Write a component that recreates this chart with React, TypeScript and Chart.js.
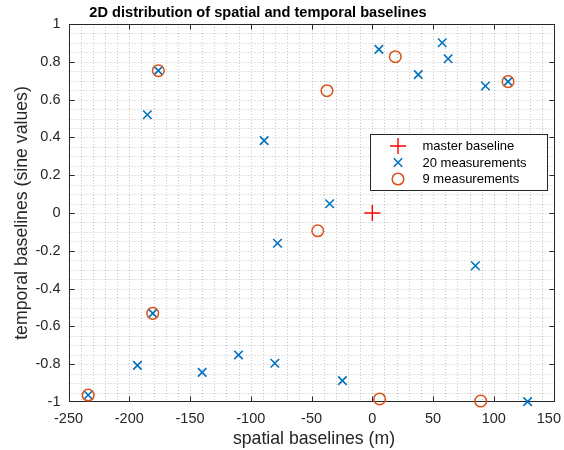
import React, { useEffect, useRef } from "react";
import { Chart, registerables } from "chart.js";

Chart.register(...registerables);

// ---------- data ----------
const titleText = "2D distribution of spatial and temporal baselines";
const xLabelText = "spatial baselines (m)";
const yLabelText = "temporal baselines (sine values)";

const masterX = [0];
const masterY = [0];

const meas20X = [-176.1, -185.1, -89.0, 5.4, 57.5, 62.4, 37.8, 93.1, 111.7, -35.1, -78.0, -180.7, -193.3, -140.0, -110.1, -80.2, -233.8, 84.8, -24.6, 127.8];
const meas20Y = [0.753, 0.52, 0.383, 0.866, 0.901, 0.816, 0.732, 0.672, 0.695, 0.049, -0.16, -0.531, -0.806, -0.843, -0.751, -0.795, -0.963, -0.279, -0.887, -0.998];

const meas9X = [-176.1, 18.9, 111.7, -37.3, -180.7, -233.8, -44.9, 6.0, 89.2];
const meas9Y = [0.753, 0.827, 0.695, 0.647, -0.531, -0.963, -0.094, -0.984, -0.995];

const xMin = -250, xMax = 150, xMajor = 50, xMinor = 10;
const yMin = -1, yMax = 1, yMajor = 0.2, yMinor = 0.05;
const xTickLabels = ["-250", "-200", "-150", "-100", "-50", "0", "50", "100", "150"];

const legendLabels = ["master baseline", "20 measurements", "9 measurements"];

const FONT = "'Liberation Sans', Arial, Helvetica, sans-serif";
const AX = "#262626";
const BLUE = "#0072BD";
const ORANGE = "#D95319";
const RED = "#FF0000";

const toPts = (xs: number[], ys: number[]) => xs.map((x, i) => ({ x, y: ys[i] }));

const matlabPlugin = {
  id: "matlabLook",
  beforeDatasetsDraw(chart: any) {
    const { ctx, chartArea, scales } = chart;
    const { left, right, top, bottom } = chartArea;
    const xs = scales.x, ys = scales.y;
    ctx.save();
    // dotted grid
    ctx.strokeStyle = "rgba(38,38,38,0.26)";
    ctx.lineWidth = 1;
    ctx.setLineDash([1, 2]);
    const nx = Math.round((xMax - xMin) / xMinor);
    for (let i = 1; i < nx; i++) {
      const v = xMin + i * xMinor;
      const p = Math.round(xs.getPixelForValue(v)) + 0.5;
      ctx.beginPath();
      ctx.moveTo(p, top);
      ctx.lineTo(p, bottom);
      ctx.stroke();
    }
    const ny = Math.round((yMax - yMin) / yMinor);
    for (let i = 1; i < ny; i++) {
      const v = yMin + i * yMinor;
      const p = Math.round(ys.getPixelForValue(v)) + 0.5;
      ctx.beginPath();
      ctx.moveTo(left, p);
      ctx.lineTo(right, p);
      ctx.stroke();
    }
    ctx.setLineDash([]);
    // frame
    ctx.strokeStyle = AX;
    ctx.lineWidth = 1;
    const L = Math.round(left) + 0.5, R = Math.round(right) - 0.5;
    const T = Math.round(top) + 0.5, B = Math.round(bottom) - 0.5;
    ctx.strokeRect(L, T, R - L, B - T);
    // inward ticks
    const tl = 5;
    const mx = Math.round((xMax - xMin) / xMajor);
    for (let i = 1; i < mx; i++) {
      const p = Math.round(xs.getPixelForValue(xMin + i * xMajor)) + 0.5;
      ctx.beginPath();
      ctx.moveTo(p, B); ctx.lineTo(p, B - tl);
      ctx.moveTo(p, T); ctx.lineTo(p, T + tl);
      ctx.stroke();
    }
    const my = Math.round((yMax - yMin) / yMajor);
    for (let i = 1; i < my; i++) {
      const p = Math.round(ys.getPixelForValue(yMin + i * yMajor)) + 0.5;
      ctx.beginPath();
      ctx.moveTo(L, p); ctx.lineTo(L + tl, p);
      ctx.moveTo(R, p); ctx.lineTo(R - tl, p);
      ctx.stroke();
    }
    ctx.restore();
  },
  afterDraw(chart: any) {
    const { ctx, scales, width } = chart;
    ctx.save();
    // x tick labels
    ctx.fillStyle = AX;
    ctx.font = `14.5px ${FONT}`;
    ctx.textAlign = "center";
    ctx.textBaseline = "middle";
    xTickLabels.forEach((t) => {
      const v = Number(t);
      let px = scales.x.getPixelForValue(v);
      const w = ctx.measureText(t).width;
      if (px + w / 2 > width - 3) px = width - 3 - w / 2;
      ctx.fillText(t, px, 419);
    });
    // title
    ctx.fillStyle = "#000";
    ctx.font = `bold 14.6px ${FONT}`;
    ctx.textAlign = "center";
    ctx.textBaseline = "alphabetic";
    ctx.fillText(titleText, 258, 17);
    // x label
    ctx.fillStyle = AX;
    ctx.font = `17.7px ${FONT}`;
    ctx.fillText(xLabelText, 314, 444);
    // y label
    ctx.save();
    ctx.translate(27, 213);
    ctx.rotate(-Math.PI / 2);
    ctx.fillText(yLabelText, 0, 0);
    ctx.restore();

    // legend
    const bx = 370.5, by = 134.5, bw = 177, bh = 56;
    ctx.fillStyle = "#fff";
    ctx.fillRect(bx, by, bw, bh);
    ctx.strokeStyle = AX;
    ctx.lineWidth = 1;
    ctx.strokeRect(bx, by, bw, bh);
    const rows = [146, 162.5, 179];
    const mxp = 398;
    ctx.lineWidth = 1.4;
    // plus
    ctx.strokeStyle = RED;
    ctx.beginPath();
    ctx.moveTo(mxp - 8, rows[0]); ctx.lineTo(mxp + 8, rows[0]);
    ctx.moveTo(mxp, rows[0] - 8); ctx.lineTo(mxp, rows[0] + 8);
    ctx.stroke();
    // x
    ctx.strokeStyle = BLUE;
    ctx.lineWidth = 1.6;
    const d = 4.2;
    ctx.beginPath();
    ctx.moveTo(mxp - d, rows[1] - d); ctx.lineTo(mxp + d, rows[1] + d);
    ctx.moveTo(mxp - d, rows[1] + d); ctx.lineTo(mxp + d, rows[1] - d);
    ctx.stroke();
    // circle
    ctx.strokeStyle = ORANGE;
    ctx.lineWidth = 1.5;
    ctx.beginPath();
    ctx.arc(mxp, rows[2], 5.8, 0, Math.PI * 2);
    ctx.stroke();
    ctx.fillStyle = "#000";
    ctx.font = `13px ${FONT}`;
    ctx.textAlign = "left";
    ctx.textBaseline = "middle";
    legendLabels.forEach((t, i) => ctx.fillText(t, 422.5, rows[i] + 0.5));
    ctx.restore();
  },
};

export default function App() {
  const ref = useRef<HTMLCanvasElement | null>(null);
  useEffect(() => {
    if (!ref.current) return;
    const chart = new Chart(ref.current, {
      type: "scatter",
      data: {
        datasets: [
          {
            label: legendLabels[0],
            data: toPts(masterX, masterY),
            pointStyle: "cross",
            radius: 8,
            borderColor: RED,
            backgroundColor: RED,
            borderWidth: 1.4,
            order: 2,
            clip: false,
          },
          {
            label: legendLabels[1],
            data: toPts(meas20X, meas20Y),
            pointStyle: "crossRot",
            radius: 6,
            borderColor: BLUE,
            backgroundColor: BLUE,
            borderWidth: 1.6,
            order: 1,
            clip: false,
          },
          {
            label: legendLabels[2],
            data: toPts(meas9X, meas9Y),
            pointStyle: "circle",
            radius: 5.8,
            borderColor: ORANGE,
            backgroundColor: "rgba(0,0,0,0)",
            borderWidth: 1.5,
            order: 0,
            clip: false,
          },
        ] as any,
      },
      options: {
        animation: false,
        responsive: false,
        devicePixelRatio: 1,
        layout: { padding: { left: 0, right: 8, top: 24, bottom: 0 } },
        plugins: {
          legend: { display: false },
          title: { display: false },
          tooltip: { enabled: false },
        },
        elements: { point: { hoverRadius: 6 } },
        scales: {
          x: {
            type: "linear",
            min: xMin,
            max: xMax,
            grid: { display: false, drawTicks: false },
            border: { display: false },
            afterFit: (s: any) => { s.height = 48; s.paddingLeft = 0; s.paddingRight = 0; },
            ticks: {
              display: false,
              stepSize: xMajor,
            },
          },
          y: {
            type: "linear",
            min: yMin,
            max: yMax,
            grid: { display: false, drawTicks: false },
            border: { display: false },
            afterFit: (s: any) => { s.width = 68.5; s.paddingTop = 0; s.paddingBottom = 0; },
            ticks: {
              stepSize: yMajor,
              padding: 8,
              color: AX,
              font: { family: FONT, size: 14.5 },
              callback: (v: any) => String(Math.round(Number(v) * 10) / 10),
            },
          },
        },
      } as any,
      plugins: [matlabPlugin],
    });
    return () => chart.destroy();
  }, []);
  return (
    <div style={{ position: "fixed", left: 0, top: 0, width: 564, height: 450, background: "#fff" }}>
      <canvas ref={ref} width={564} height={450} style={{ display: "block", width: 564, height: 450 }} />
    </div>
  );
}
